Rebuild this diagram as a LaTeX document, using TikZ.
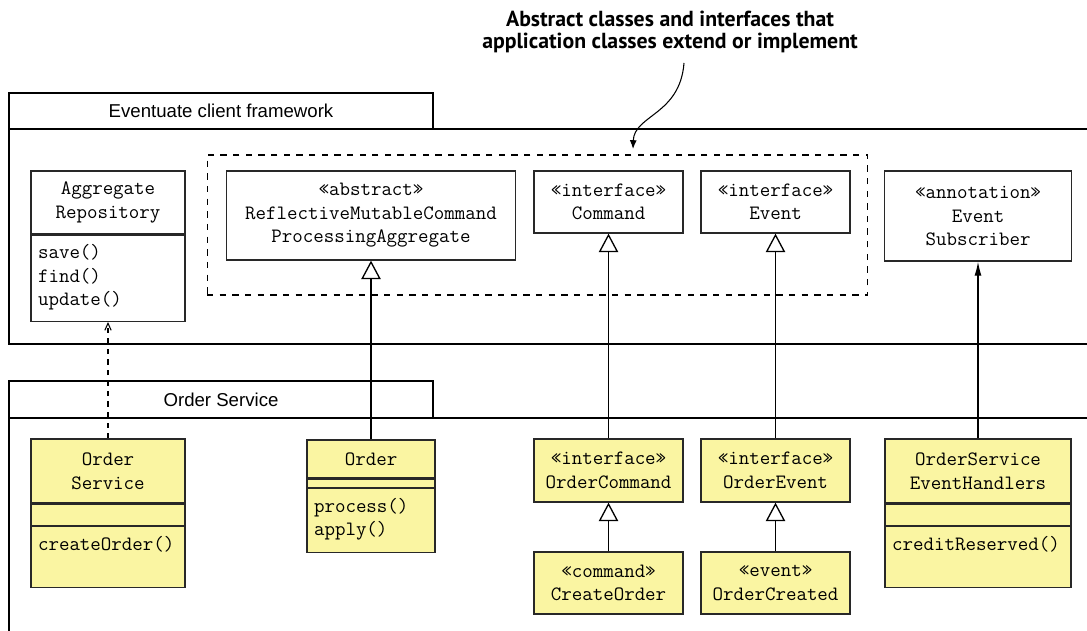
\documentclass[tikz,border=0pt]{standalone}
\usepackage{fontspec}
\setmainfont{Liberation Sans}
\newfontfamily\notefont{PT Sans}
\usetikzlibrary{arrows.meta}

\definecolor{clsfill}{RGB}{250,245,162}
\definecolor{clsline}{RGB}{40,40,40}

\tikzset{
  pkgtab/.style={draw, line width=0.75pt, inner sep=0pt, font=\fontsize{10.6}{12}\selectfont},
  pkgline/.style={line width=0.75pt},
  umlbox/.style={draw=clsline, line width=0.75pt, inner sep=0pt, align=center,
    font=\ttfamily\fontsize{11.6}{13.4}\selectfont},
  appbox/.style={umlbox, fill=clsfill},
  ops/.style={anchor=north, inner xsep=0.14cm, inner ysep=0pt, align=left, text height=13.4pt},
  group/.style={draw, line width=0.6pt, dash pattern=on 3.6pt off 3.6pt, minimum width=13.22cm, minimum height=2.8cm},
  extends/.style={line width=0.75pt, -{Triangle[open, length=10.5pt, width=11pt]}},
  uses/.style={line width=0.6pt, dashed, -{Straight Barb[length=4pt, width=3.6pt]}},
  subscribes/.style={line width=0.75pt, -{Latex[length=8pt, width=4pt]}},
  note/.style={align=center, inner sep=0pt, font=\notefont\bfseries\fontsize{12.4}{12.5}\selectfont},
  pointer/.style={line width=0.6pt, -{Latex[length=5pt, width=4pt]}}
}

\begin{document}
\begin{tikzpicture}[x=0.02cm, y=-0.02cm]
  \useasboundingbox (0,0) rectangle (1087,631);

  % packages
  \node[pkgtab, minimum width=8.48cm, minimum height=0.72cm] (fwtab) at (221,111) {Eventuate client framework};
  \draw[pkgline] (1087,129) -- (9,129) -- (9,344) -- (1087,344);
  \node[pkgtab, minimum width=8.48cm, minimum height=0.74cm] (ostab) at (221,399.5) {Order Service};
  \draw[pkgline] (1087,418) -- (9,418) -- (9,631);

  % framework classes
  \node[group] (grp) at (537.5,225) {};
  \node[umlbox, minimum width=3.08cm, minimum height=1.26cm] (repo) at (108,202.5) {Aggregate\\Repository};
  \node[umlbox, ops, text width=2.8cm, text depth=35.56pt] (repoops) at (repo.south) {save()\\find()\\update()};
  \node[umlbox, minimum width=5.78cm, minimum height=1.78cm] (absagg) at (371,215.5)
    {«abstract»\\ReflectiveMutableCommand\\ProcessingAggregate};
  \node[umlbox, minimum width=2.98cm, minimum height=1.24cm] (cmd) at (608.5,202) {«interface»\\Command};
  \node[umlbox, minimum width=2.98cm, minimum height=1.24cm] (evt) at (775.5,202) {«interface»\\Event};
  \node[umlbox, minimum width=3.74cm, minimum height=1.8cm] (subs) at (978,216) {«annotation»\\Event\\Subscriber};

  % application classes
  \node[appbox, minimum width=3.08cm, minimum height=1.28cm] (osvc) at (108,471) {Order\\Service};
  \node[appbox, minimum width=3.08cm, minimum height=0.42cm, anchor=north] (osvcattr) at (osvc.south) {};
  \node[appbox, ops, text width=2.8cm, text depth=21.33pt] (osvcops) at (osvcattr.south) {createOrder()};

  \node[appbox, minimum width=2.56cm, minimum height=0.76cm] (order) at (371,459) {Order};
  \node[appbox, minimum width=2.56cm, minimum height=0.16cm, anchor=north] (orderattr) at (order.south) {};
  \node[appbox, ops, text width=2.28cm, text depth=23.03pt] (orderops) at (orderattr.south) {process()\\apply()};

  \node[appbox, minimum width=2.98cm, minimum height=1.26cm] (ocmd) at (608.5,470.5) {«interface»\\OrderCommand};
  \node[appbox, minimum width=2.98cm, minimum height=1.26cm] (oevt) at (775.5,470.5) {«interface»\\OrderEvent};
  \node[appbox, minimum width=2.98cm, minimum height=1.24cm] (crtord) at (608.5,583) {«command»\\CreateOrder};
  \node[appbox, minimum width=2.98cm, minimum height=1.24cm] (ordcrtd) at (775.5,583) {«event»\\OrderCreated};

  \node[appbox, minimum width=3.72cm, minimum height=1.28cm] (hdl) at (978,471) {OrderService\\EventHandlers};
  \node[appbox, minimum width=3.72cm, minimum height=0.42cm, anchor=north] (hdlattr) at (hdl.south) {};
  \node[appbox, ops, text width=3.44cm, text depth=21.33pt] (hdlops) at (hdlattr.south) {creditReserved()};

  % connectors
  \draw[uses] (osvc) -- (repoops);
  \foreach \from/\to in {order/absagg, ocmd/cmd, oevt/evt, crtord/ocmd, ordcrtd/oevt}
    \draw[extends] (\from) -- (\to);
  \draw[subscribes] (hdl) -- (subs);

  % callout
  \node[note] (callout) at (670,32) {Abstract classes and interfaces that\\application classes extend or implement};
  \coordinate (calloutend) at (684,63);
  \coordinate (grptip) at (633,149);
  \draw[pointer] (calloutend) .. controls (680,115) and (634,115) .. (grptip);
\end{tikzpicture}
\end{document}
